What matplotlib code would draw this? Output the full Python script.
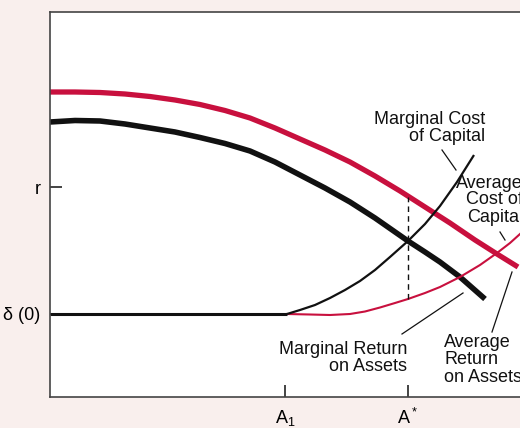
import matplotlib
matplotlib.use("Agg")
import matplotlib.pyplot as plt

plt.rcParams["font.family"] = ["Liberation Sans", "DejaVu Sans"]
plt.rcParams["mathtext.fontset"] = "custom"
plt.rcParams["mathtext.rm"] = "Liberation Sans"

RED = "#c8103e"
INK = "#111111"
BG = "#f9efed"

# curves (x = assets, y = rate, arbitrary units)
avg_return_x = [0, 25, 50, 75, 100, 125, 150, 175, 200, 225, 250, 275,
                300, 325, 350, 375, 400, 425, 447, 468]
avg_return_y = [305, 305, 304.5, 303, 300.5, 297, 292.5, 286.5, 279, 269,
                258, 247, 235, 221, 206, 190, 174, 157, 143, 130]

mrg_return_x = [0, 25, 50, 75, 100, 125, 150, 175, 200, 225, 250, 275,
                300, 325, 358, 375, 390, 410, 435]
mrg_return_y = [275, 276.5, 276, 273, 269, 265, 259.5, 253.5, 246, 235,
                222, 209, 195, 179, 156, 145, 135, 120, 98]

mrg_cost_flat_x = [0, 237]
mrg_cost_flat_y = [83, 83]
mrg_cost_x = [237, 250, 265, 280, 295, 310, 325, 340, 358, 375, 390,
              407, 424]
mrg_cost_y = [83, 87, 92, 99, 107, 116, 127, 140, 156, 173, 191, 215, 242]

avg_cost_x = [237, 260, 280, 300, 315, 330, 345, 358, 375, 390, 410,
              430, 447, 460, 470]
avg_cost_y = [83, 82.5, 82, 83, 85.5, 89.5, 94, 98, 104, 110, 120, 132,
              144, 154, 163]

r_level = 210
delta0_level = 83
a1 = 235
a_star = 358
dash_lo, dash_hi = 98, 200

fig = plt.figure(figsize=(5.2, 4.28), dpi=100, facecolor=BG)
ax = fig.add_axes([50 / 520, 31 / 428, 480 / 520, 385 / 428])
ax.set_facecolor("white")

ax.plot(avg_return_x, avg_return_y, color=RED, lw=3.8,
        solid_capstyle="butt", solid_joinstyle="round")
ax.plot(mrg_return_x, mrg_return_y, color=INK, lw=4.0,
        solid_capstyle="butt", solid_joinstyle="round")
ax.plot(avg_cost_x, avg_cost_y, color=RED, lw=1.5)
ax.plot(mrg_cost_flat_x, mrg_cost_flat_y, color=INK, lw=2.2, solid_capstyle="butt")
ax.plot(mrg_cost_x, mrg_cost_y, color=INK, lw=1.6, solid_capstyle="butt")
ax.vlines(a_star, dash_lo, dash_hi, color=INK, lw=1.0, linestyles=(0, (4, 3)))

ax.set_xlim(0, 480)
ax.set_ylim(0, 385)
for side in ["left", "bottom", "top", "right"]:
    ax.spines[side].set_color("#444444")
    ax.spines[side].set_linewidth(1.2)

ax.set_yticks([delta0_level, r_level], ["δ (0)", "r"])
ax.set_xticks([a1, a_star], [r"$\mathregular{A_1}$", r"$\mathregular{A^*}$"])
ax.tick_params(axis="both", direction="in", length=8.5, width=1.1,
               color=INK, labelsize=13)
ax.tick_params(axis="y", pad=7)
ax.tick_params(axis="x", pad=8)

txt = dict(fontsize=13, color=INK, linespacing=1.0)
ax.text(435, 269, "Marginal Cost\nof Capital", ha="right", va="center",
        multialignment="right", **txt)
ax.text(473, 197, "Average\nCost of\nCapital", ha="right", va="center",
        multialignment="right", **txt, clip_on=False)
ax.text(357, 39, "Marginal Return\non Assets", ha="right", va="center",
        multialignment="right", **txt)
ax.text(394, 37, "Average\nReturn\non Assets", ha="left", va="center",
        multialignment="left", linespacing=1.05, fontsize=13, color=INK)

lead = dict(color=INK, lw=0.9)
ax.plot([392, 406], [247, 227], **lead)
ax.plot([450, 455], [165, 157], **lead)
ax.plot([352, 413], [63, 104], **lead)
ax.plot([442, 462], [65, 125], **lead)

fig.savefig("out.png", dpi=100, facecolor=BG)
